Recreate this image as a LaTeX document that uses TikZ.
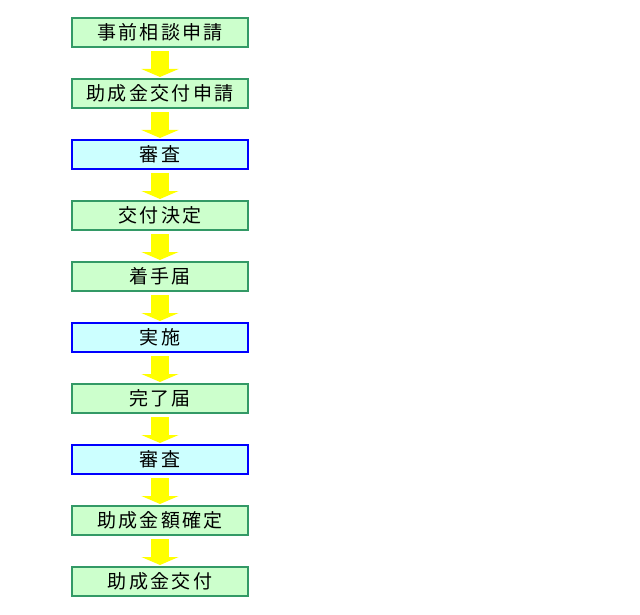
\documentclass[tikz,border=0pt]{standalone}
\usepackage{fontspec}
\newfontfamily\jpfont[LetterSpace=12]{Noto Sans CJK JP}
\usetikzlibrary{arrows.meta}
\definecolor{boxgreen}{HTML}{CCFFCC}
\definecolor{edgegreen}{HTML}{339966}
\definecolor{boxcyan}{HTML}{CCFFFF}
\definecolor{edgeblue}{HTML}{0000FF}
\definecolor{arrowyellow}{HTML}{FFFF00}
\begin{document}
\begin{tikzpicture}[
					x=1pt,
					y=-1pt,
					line join=miter,
					stepgreen/.style={draw=edgegreen, fill=boxgreen, line width=2pt,
						minimum width=176pt, minimum height=29pt, inner sep=0pt,
						font=\jpfont\fontsize{19}{20}\selectfont},
					stepblue/.style={stepgreen, draw=edgeblue, fill=boxcyan},
					flowarrow/.style={draw=arrowyellow, line width=18pt, line cap=butt,
						-{Triangle[width=37pt, length=8pt]},
						shorten <=3pt, shorten >=1pt}
					]
					\useasboundingbox (0,0) rectangle (640,615);
					
					% Flow steps
					\node[stepgreen] (S1)  at (160,32.5)  {事前相談申請};
					\node[stepgreen] (S2)  at (160,93.5)  {助成金交付申請};
					\node[stepblue]  (S3)  at (160,154.5) {審査};
					\node[stepgreen] (S4)  at (160,215.5) {交付決定};
					\node[stepgreen] (S5)  at (160,276.5) {着手届};
					\node[stepblue]  (S6)  at (160,337.5) {実施};
					\node[stepgreen] (S7)  at (160,398.5) {完了届};
					\node[stepblue]  (S8)  at (160,459.5) {審査};
					\node[stepgreen] (S9)  at (160,520.5) {助成金額確定};
					\node[stepgreen] (S10) at (160,581.5) {助成金交付};
					
					% Yellow arrows between steps
					\draw[flowarrow] (S1)  -- (S2);
					\draw[flowarrow] (S2)  -- (S3);
					\draw[flowarrow] (S3)  -- (S4);
					\draw[flowarrow] (S4)  -- (S5);
					\draw[flowarrow] (S5)  -- (S6);
					\draw[flowarrow] (S6)  -- (S7);
					\draw[flowarrow] (S7)  -- (S8);
					\draw[flowarrow] (S8)  -- (S9);
					\draw[flowarrow] (S9)  -- (S10);
					
				\end{tikzpicture}
\end{document}
